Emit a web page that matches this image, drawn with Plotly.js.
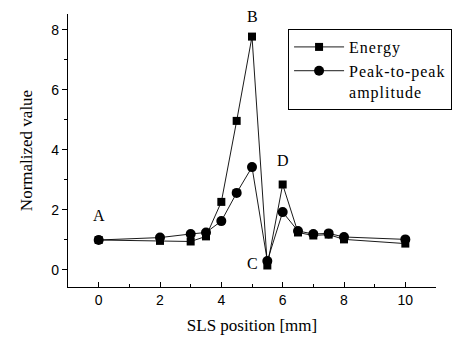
<!DOCTYPE html>
<html>
<head>
<meta charset="utf-8">
<script src="https://cdn.plot.ly/plotly-3.0.1.min.js"></script>
<style>
  html, body { margin: 0; padding: 0; background: #fff; }
  #chart { width: 463px; height: 337px; }
  .legendtext { letter-spacing: 1px; }
</style>
</head>
<body>
<div id="chart"></div>
<script>
// Data
const positions = [0, 2, 3, 3.5, 4, 4.5, 5, 5.5, 6, 6.5, 7, 7.5, 8, 10];
const energy    = [1.0, 0.97, 0.95, 1.12, 2.27, 4.97, 7.78, 0.15, 2.85, 1.25, 1.15, 1.18, 1.02, 0.88];
const peakToPeak = [1.0, 1.08, 1.2, 1.25, 1.63, 2.57, 3.43, 0.3, 1.93, 1.3, 1.2, 1.22, 1.1, 1.02];
const seriesNames = ["Energy", "Peak-to-peak<br>amplitude"];
const pointLabels = ["A", "B", "C", "D"];
const labelX = [0, 5, 5.0, 6.0];
const labelY = [1.8, 8.45, 0.2, 3.65];
const xTicks = [0, 2, 4, 6, 8, 10];
const yTicks = [0, 2, 4, 6, 8];

const serif = "Liberation Serif";
const sans = "Liberation Sans";

const traces = [
  {
    x: positions, y: energy, name: seriesNames[0],
    mode: "lines+markers", type: "scatter",
    line: { color: "#000", width: 0.9 },
    marker: { symbol: "square", size: 8, color: "#000" }
  },
  {
    x: positions, y: peakToPeak, name: seriesNames[1],
    mode: "lines+markers", type: "scatter",
    line: { color: "#000", width: 0.9 },
    marker: { symbol: "circle", size: 10, color: "#000" }
  }
];

const annotations = pointLabels.map((t, i) => ({
  x: labelX[i], y: labelY[i], xref: "x", yref: "y",
  text: t, showarrow: false,
  font: { family: serif, size: 16, color: "#000" }
}));

const layout = {
  width: 463, height: 337,
  margin: { l: 68, r: 27, t: 14, b: 50, autoexpand: false },
  paper_bgcolor: "#fff", plot_bgcolor: "#fff",
  font: { family: serif, color: "#000" },
  showlegend: true,
  legend: {
    x: 0.598, y: 0.945, xanchor: "left", yanchor: "top",
    bordercolor: "#000", borderwidth: 1, bgcolor: "#fff",
    font: { family: serif, size: 16, color: "#000" },
    valign: "top", tracegroupgap: 0,
    itemwidth: 50
  },
  xaxis: {
    range: [-1, 11], showgrid: false, zeroline: false,
    showline: true, linecolor: "#000", linewidth: 1.2,
    ticks: "inside", ticklen: 5, tickcolor: "#000",
    tickvals: xTicks,
    minor: { ticks: "inside", dtick: 1, tick0: 1, ticklen: 3, tickcolor: "#000", showgrid: false },
    tickfont: { family: sans, size: 14, color: "#000" },
    title: { text: "SLS position [mm]", font: { family: serif, size: 17, color: "#000" }, standoff: 12 }
  },
  yaxis: {
    range: [-0.567, 8.533], showgrid: false, zeroline: false,
    showline: true, linecolor: "#000", linewidth: 1.2,
    ticks: "outside", ticklen: 5, tickcolor: "#000",
    tickvals: yTicks,
    minor: { ticks: "outside", dtick: 1, tick0: 1, ticklen: 3, tickcolor: "#000", showgrid: false },
    tickfont: { family: sans, size: 14, color: "#000" },
    title: { text: "Normalized value", font: { family: serif, size: 17, color: "#000" }, standoff: 14 }
  },
  annotations: annotations
};

Plotly.newPlot("chart", traces, layout, { staticPlot: true, displayModeBar: false });
</script>
</body>
</html>
